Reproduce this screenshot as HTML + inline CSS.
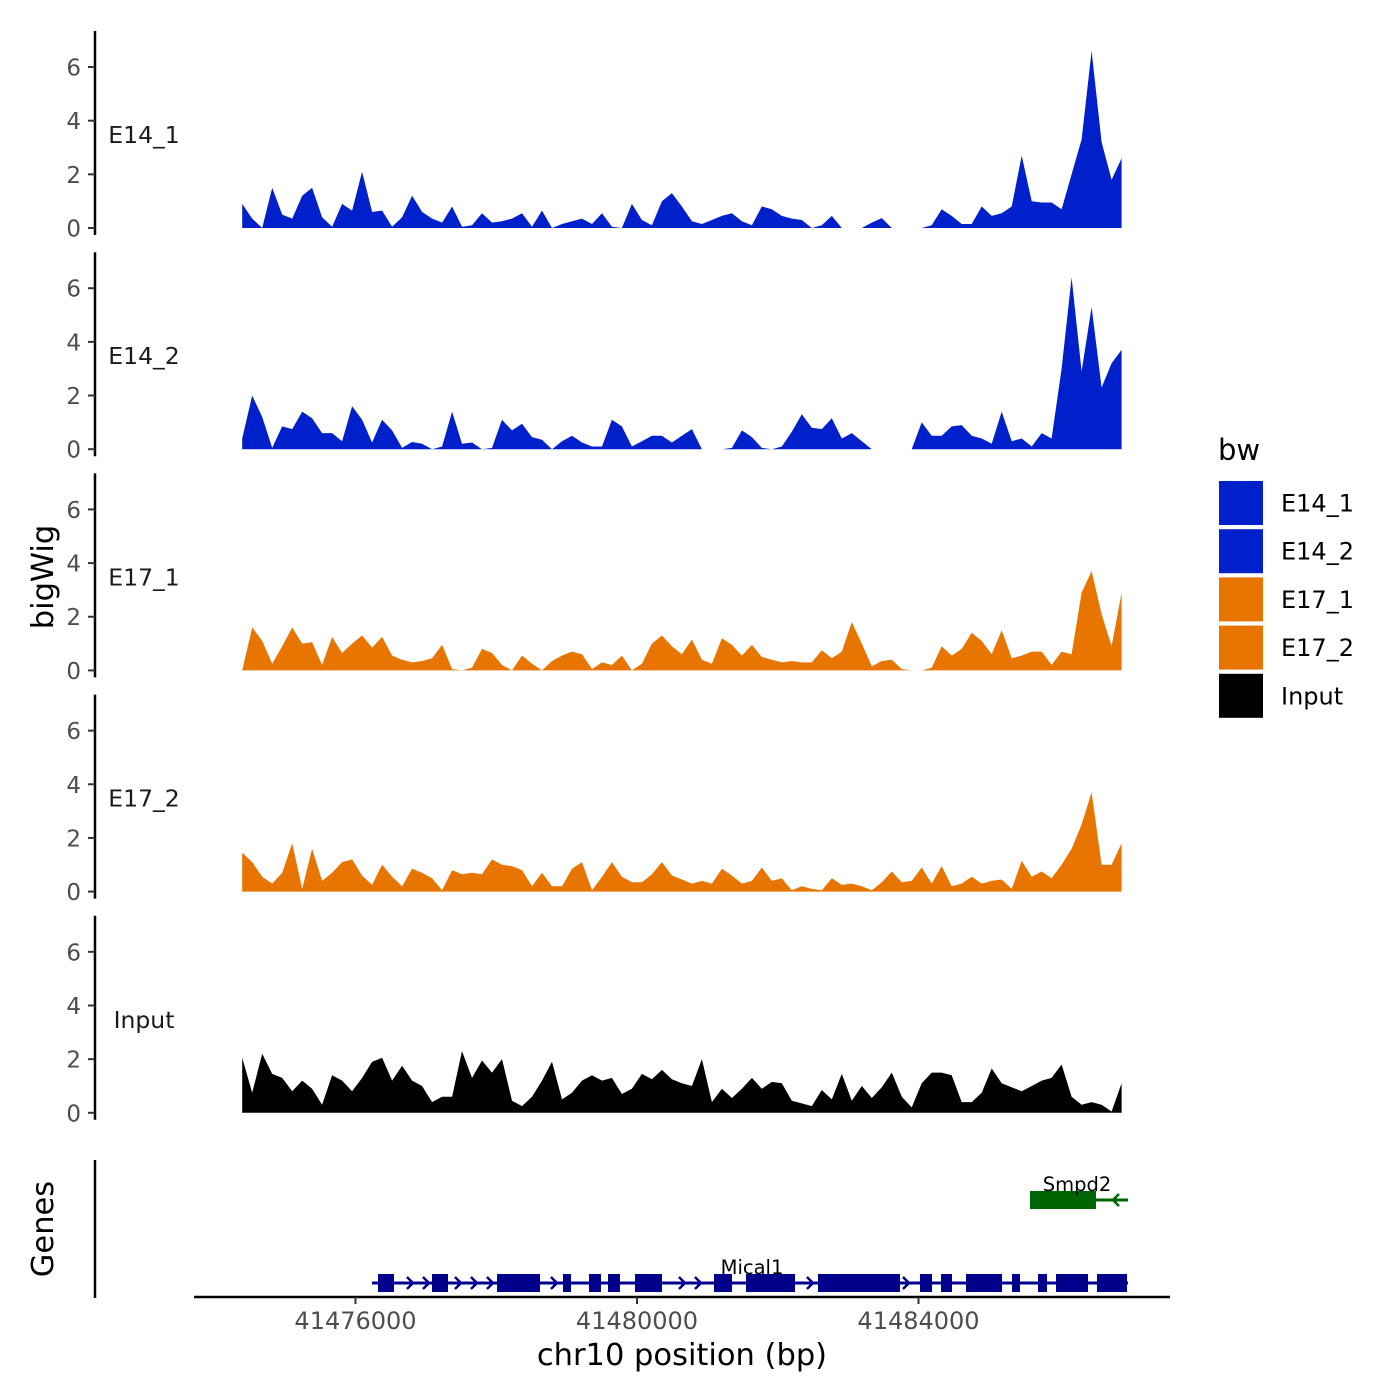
<!DOCTYPE html>
<html><head><meta charset="utf-8"><style>
html,body{margin:0;padding:0;background:#fff;}
svg{display:block;font-family:"DejaVu Sans","Liberation Sans",sans-serif;}
</style></head><body>
<svg id="chart" width="1400" height="1400" viewBox="0 0 1400 1400" xmlns="http://www.w3.org/2000/svg">
<rect width="1400" height="1400" fill="#fff"/>
<g id="tracks"></g>
<g id="genes"></g>
<g id="xaxis"></g>
<text x="53" y="577" font-size="30.5" text-anchor="middle" transform="rotate(-90 53 577)">bigWig</text>
<text x="53" y="1229" font-size="30.5" text-anchor="middle" transform="rotate(-90 53 1229)">Genes</text>
<text x="682" y="1365" font-size="30.5" text-anchor="middle">chr10 position (bp)</text>
<g id="legend">
<text x="1218" y="460" font-size="29">bw</text>
</g>
</svg>
<script>
const NS="http://www.w3.org/2000/svg";
// ---- data ----
const trackNames=["E14_1","E14_2","E17_1","E17_2","Input"];
const trackColors=["#0020CC","#0020CC","#E87500","#E87500","#000000"];
const binStart=41474390;
const binSize=142;
const e14_1=[0.9,0.35,0,1.5,0.5,0.35,1.2,1.5,0.4,0.05,0.9,0.65,2.1,0.6,0.65,0.05,0.4,1.2,0.6,0.35,0.2,0.8,0.05,0.1,0.55,0.2,0.25,0.35,0.55,0.05,0.65,0,0.15,0.25,0.35,0.15,0.55,0.05,0,0.9,0.3,0.1,1.0,1.3,0.8,0.25,0.15,0.3,0.45,0.55,0.25,0.1,0.8,0.7,0.45,0.35,0.3,0,0.1,0.45,0,0,0,0.2,0.37,0,0,0,0,0.1,0.7,0.45,0.15,0.15,0.8,0.45,0.55,0.8,2.7,1.0,0.95,0.95,0.7,2.0,3.3,6.6,3.2,1.8,2.6];
const e14_2=[0.4,2.0,1.2,0.05,0.85,0.75,1.4,1.15,0.6,0.6,0.3,1.6,1.1,0.25,1.1,0.7,0.05,0.27,0.2,0,0.1,1.4,0.2,0.25,0,0.05,1.1,0.7,0.95,0.45,0.35,0,0.3,0.5,0.25,0.1,0.1,1.1,0.85,0.1,0.3,0.5,0.5,0.25,0.5,0.75,0,0,0,0.05,0.7,0.45,0.05,0,0.1,0.65,1.3,0.8,0.75,1.15,0.4,0.6,0.3,0,0,0,0,0,1.0,0.5,0.5,0.85,0.9,0.5,0.4,0.2,1.4,0.3,0.4,0.1,0.6,0.4,3.0,6.4,2.9,5.3,2.3,3.2,3.7];
const e17_1=[0,1.6,1.1,0.25,0.9,1.6,1.0,1.05,0.2,1.25,0.65,1.0,1.3,0.85,1.25,0.55,0.4,0.3,0.35,0.45,0.95,0.05,0,0.1,0.8,0.65,0.2,0,0.55,0.25,0,0.35,0.55,0.7,0.6,0.05,0.3,0.2,0.55,0,0.25,1.0,1.3,0.9,0.6,1.15,0.4,0.25,1.2,0.95,0.55,0.95,0.5,0.4,0.3,0.35,0.3,0.3,0.75,0.45,0.7,1.8,1.0,0.15,0.35,0.4,0.05,0,0,0.1,0.9,0.55,0.8,1.4,1.1,0.6,1.5,0.45,0.55,0.7,0.7,0.2,0.7,0.6,2.9,3.7,2.1,0.9,2.9];
const e17_2=[1.45,1.1,0.55,0.3,0.7,1.8,0.1,1.6,0.4,0.7,1.1,1.2,0.6,0.25,1.0,0.55,0.2,0.85,0.7,0.5,0.05,0.8,0.65,0.7,0.65,1.2,1.0,0.95,0.8,0.2,0.7,0.2,0.2,0.85,1.1,0.05,0.55,1.1,0.55,0.35,0.35,0.65,1.1,0.6,0.45,0.3,0.4,0.3,0.85,0.6,0.3,0.4,0.9,0.4,0.5,0.05,0.2,0.1,0.05,0.5,0.25,0.3,0.2,0.05,0.35,0.75,0.35,0.4,0.9,0.3,0.95,0.2,0.3,0.55,0.3,0.4,0.45,0.1,1.15,0.55,0.75,0.5,1.0,1.6,2.5,3.7,1.0,1.0,1.8];
const inputTrack=[2.05,0.75,2.2,1.45,1.3,0.8,1.2,0.9,0.3,1.4,1.2,0.8,1.3,1.9,2.05,1.2,1.75,1.2,1.0,0.4,0.6,0.6,2.3,1.3,1.95,1.5,2.0,0.45,0.25,0.6,1.2,1.9,0.5,0.75,1.2,1.4,1.2,1.3,0.7,0.9,1.45,1.25,1.6,1.25,1.1,1.0,2.0,0.4,0.9,0.55,0.9,1.3,0.9,1.15,1.1,0.45,0.35,0.25,0.85,0.5,1.45,0.45,1.0,0.55,0.95,1.5,0.6,0.2,1.1,1.5,1.5,1.4,0.4,0.4,0.75,1.65,1.1,0.95,0.8,1.0,1.2,1.3,1.8,0.6,0.3,0.4,0.3,0.05,1.1];
const yTicks=[0,2,4,6];
const xTicks=[41476000,41480000,41484000];
const xTickLabels=["41476000","41480000","41484000"];
const mical1Exons=[[41476320,41476547],[41477087,41477314],[41478011,41478622],[41478948,41479062],[41479318,41479488],[41479588,41479758],[41479972,41480355],[41481094,41481350],[41481549,41482245],[41482572,41483737],[41484021,41484192],[41484320,41484476],[41484675,41485187],[41485329,41485442],[41485698,41485826],[41485954,41486409],[41486536,41486963]];
const mical1Span=[41476234,41486977];
const smpd2Exons=[[41485584,41486522]];
const smpd2Span=[41485584,41486977];

// ---- scales ----
const xScale=bp=>637+(bp-41480000)*0.070375;
const panelZero=i=>228+i*221.2;
const yScale=(i,v)=>panelZero(i)-v*26.83;

function mk(tag,attrs,parent){const e=document.createElementNS(NS,tag);for(const k in attrs)e.setAttribute(k,attrs[k]);parent.appendChild(e);return e;}

const tracksG=document.getElementById('tracks');
const series=[e14_1,e14_2,e17_1,e17_2,inputTrack];
series.forEach((vals,i)=>{
  const g=mk('g',{},tracksG);
  
  
  const z=panelZero(i);
  const ax=mk('line',{x1:95,x2:95,y1:z-197,y2:z+7,stroke:'#000','stroke-width':2.5},g);
  
  
  yTicks.forEach(t=>{
    const y=yScale(i,t);
    const tk=mk('line',{x1:88,x2:95,y1:y,y2:y,stroke:'#333','stroke-width':2},g);
    
    
    const tl=mk('text',{x:81,y:y+8.5,'font-size':23,fill:'#4d4d4d','text-anchor':'end'},g);
    
    
    tl.textContent=String(t);
  });
  let d='M'+xScale(binStart).toFixed(1)+','+z;
  vals.forEach((v,k)=>{d+=' L'+xScale(binStart+k*binSize).toFixed(1)+','+yScale(i,v).toFixed(1);});
  d+=' L'+xScale(binStart+(vals.length-1)*binSize).toFixed(1)+','+z+' Z';
  const p=mk('path',{d:d,fill:trackColors[i],stroke:'none'},g);
  
  
  const lb=mk('text',{x:144,y:z-85,'font-size':23.5,fill:'#1a1a1a','text-anchor':'middle'},g);
  
  
  lb.textContent=trackNames[i];
});

// ---- genes ----
const genesG=document.getElementById('genes');
const gax=mk('line',{x1:95,x2:95,y1:1160,y2:1298,stroke:'#000','stroke-width':2.5},genesG);


function drawGene(name,exons,span,yc,color,dir,labelX,labelY){
  const g=mk('g',{},genesG);
  
  
  const x1=xScale(span[0]),x2=xScale(span[1]);
  mk('line',{x1:x1,x2:x2,y1:yc,y2:yc,stroke:color,'stroke-width':3},g);
  const exPx=exons.map(e=>[xScale(e[0]),xScale(e[1])]);
  for(let x=x1+6;x<x2-3;x+=16){
    if(exPx.some(e=>x>e[0]-5&&x<e[1]+5))continue;
    const s=dir>0?`M${x-3},${yc-6} L${x+3},${yc} L${x-3},${yc+6}`:`M${x+3},${yc-6} L${x-3},${yc} L${x+3},${yc+6}`;
    mk('path',{d:s,fill:'none',stroke:color,'stroke-width':2.5},g);
  }
  exons.forEach(e=>{
    const r=mk('rect',{x:xScale(e[0]),y:yc-9,width:xScale(e[1])-xScale(e[0]),height:18,fill:color},g);
    
    
  });
  const t=mk('text',{x:labelX,y:labelY,'font-size':19.5,fill:'#000','text-anchor':'middle'},g);
  
  
  t.textContent=name;
}
drawGene('Mical1',mical1Exons,mical1Span,1283,'#00008B',1,752,1274);
drawGene('Smpd2',smpd2Exons,smpd2Span,1200,'#006400',-1,1077,1191);

// ---- x axis ----
const xg=document.getElementById('xaxis');
const xl=mk('line',{x1:194,x2:1170,y1:1297,y2:1297,stroke:'#000','stroke-width':2.5},xg);


xTicks.forEach((t,k)=>{
  const x=xScale(t);
  const tk=mk('line',{x1:x,x2:x,y1:1297,y2:1304,stroke:'#333','stroke-width':2},xg);
  
  
  const tl=mk('text',{x:x,y:1329,'font-size':24,fill:'#4d4d4d','text-anchor':'middle'},xg);
  
  
  tl.textContent=xTickLabels[k];
});

// ---- legend ----
const lg=document.getElementById('legend');
trackNames.forEach((n,k)=>{
  const y=481+k*48.2;
  const r=mk('rect',{x:1219,y:y,width:44,height:44,fill:trackColors[k]},lg);
  
  
  const t=mk('text',{x:1281,y:y+30.5,'font-size':24,fill:'#000'},lg);
  
  
  t.textContent=n;
});
</script>
</body></html>
